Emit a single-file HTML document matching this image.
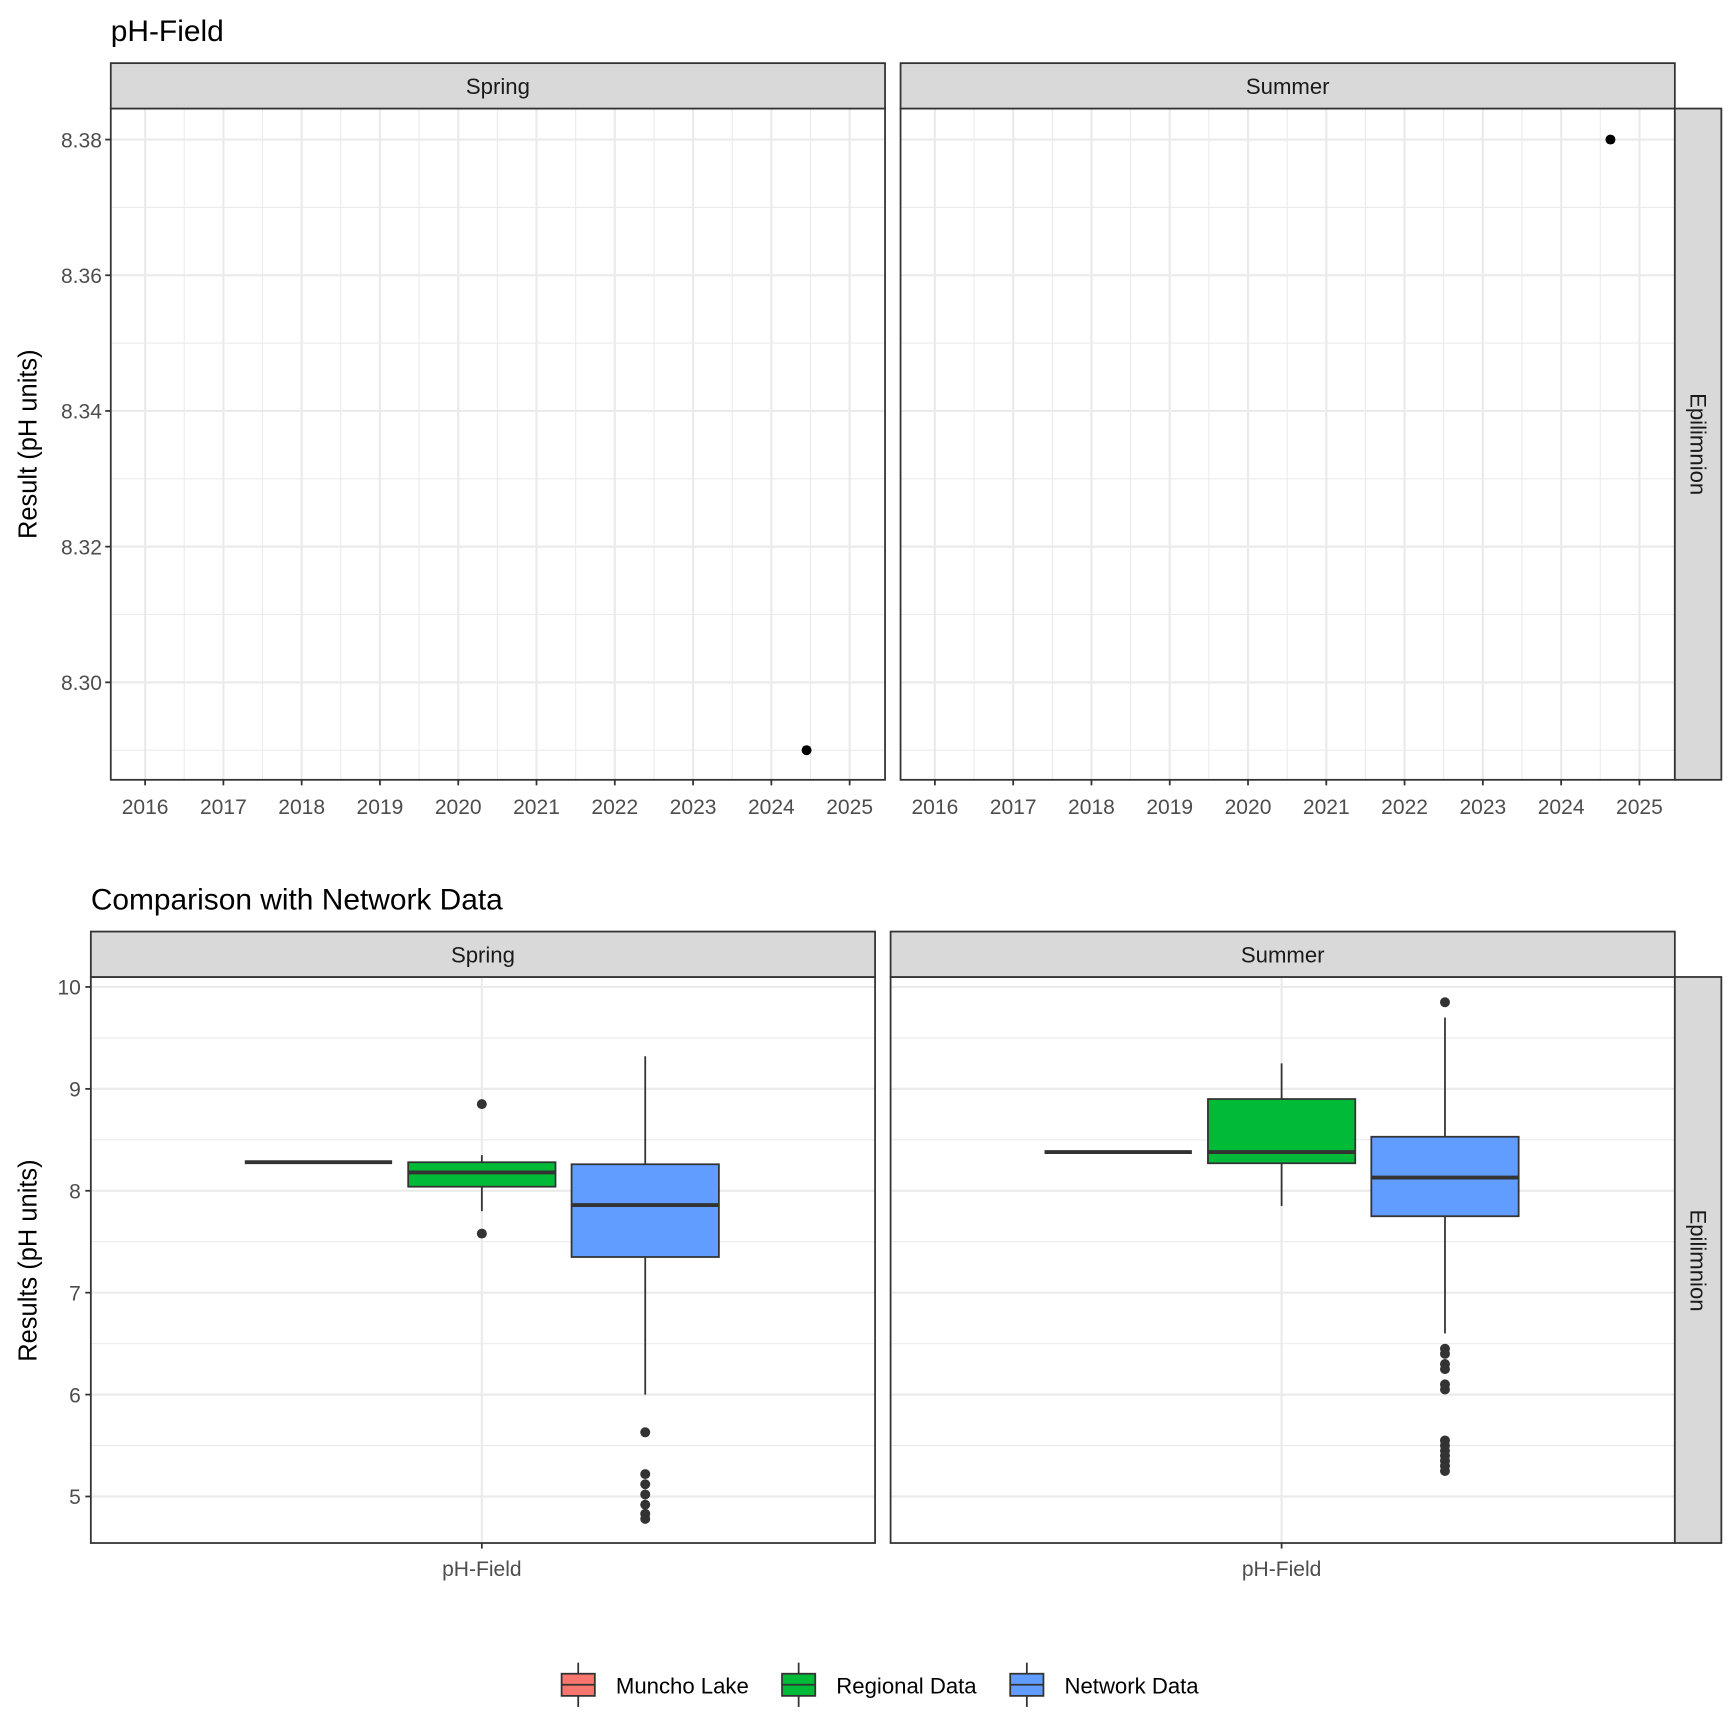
<!DOCTYPE html>
<html><head><meta charset="utf-8"><style>
html,body{margin:0;padding:0;background:#fff;}
svg{display:block;font-family:"Liberation Sans",Arial,sans-serif;}
</style></head><body>
<svg id="chart" width="1728" height="1728" viewBox="0 0 1560 1560" xmlns="http://www.w3.org/2000/svg"></svg>
<script>
// ---- data ----
const years = [2016,2017,2018,2019,2020,2021,2022,2023,2024,2025];
const topTicks = [8.30,8.32,8.34,8.36,8.38];
const topSeasons = ["Spring","Summer"];
const topPointX = [2024.45, 2024.63];
const topPointY = [8.29, 8.38];
const botTicks = [5,6,7,8,9,10];
const groups = ["Muncho Lake","Regional Data","Network Data"];
const groupColors = ["#F8766D","#00BA38","#619CFF"];
// [lowerWhisker, q1, median, q3, upperWhisker]
const springStats = [[8.28,8.28,8.28,8.28,8.28],[7.80,8.04,8.18,8.28,8.35],[6.00,7.35,7.86,8.26,9.32]];
const summerStats = [[8.38,8.38,8.38,8.38,8.38],[7.85,8.27,8.38,8.90,9.25],[6.60,7.75,8.13,8.53,9.70]];
const springOutliers = [[],[8.85,7.58],[5.63,5.22,5.12,5.02,4.92,4.83,4.78]];
const summerOutliers = [[],[],[9.85,6.45,6.40,6.30,6.25,6.10,6.05,5.55,5.50,5.45,5.40,5.35,5.30,5.25]];

const svg = document.getElementById('chart');
const NS = "http://www.w3.org/2000/svg";
function mk(tag, attrs, parent, name, text){
  const e = document.createElementNS(NS, tag);
  for (const k in attrs) e.setAttribute(k, attrs[k]);
  
  
  if (text !== undefined) e.textContent = text;
  (parent||svg).appendChild(e);
  return e;
}
function txt(x,y,s,size,anchor,fill,name,extra){
  const a = Object.assign({x:x,y:y,'font-size':size,'text-anchor':anchor,fill:fill}, extra||{});
  return mk('text', a, svg, name, s);
}

// ---- top chart ----
txt(100,37,"pH-Field",27,"start","#000","top-title");
const topY0 = 98, topY1 = 704;
const ty = v => 126 + (8.38 - v) / 0.02 * 122.5;
const topPanels = [{x0:100,x1:799,ox:131},{x0:813,x1:1512,ox:844}];
topPanels.forEach((p,i)=>{
  const tx = yr => p.ox + (yr - 2016) * 70.67;
  const g = mk('g',{},svg,'top-panel-'+topSeasons[i].toLowerCase());
  mk('rect',{x:p.x0,y:topY0,width:p.x1-p.x0,height:topY1-topY0,fill:'#fff'},g,'panel-background');
  // minor grid
  for (let k=0;k<years.length;k++){ const m = years[k]+0.5; const X=tx(m); if (X>p.x0 && X<p.x1) mk('line',{x1:X,x2:X,y1:topY0,y2:topY1,stroke:'#EBEBEB','stroke-width':1},g,'minor-gridline-x'); }
  { const X = tx(2015.5); if (X>p.x0) mk('line',{x1:X,x2:X,y1:topY0,y2:topY1,stroke:'#EBEBEB','stroke-width':1},g,'minor-gridline-x'); }
  for (let k=0;k<topTicks.length;k++){ const Y=ty(topTicks[k]-0.01); if (Y>topY0&&Y<topY1) mk('line',{x1:p.x0,x2:p.x1,y1:Y,y2:Y,stroke:'#EBEBEB','stroke-width':1},g,'minor-gridline-y'); }
  years.forEach(yr=>{ const X=tx(yr); mk('line',{x1:X,x2:X,y1:topY0,y2:topY1,stroke:'#EBEBEB','stroke-width':2},g,'gridline-x'); });
  topTicks.forEach(v=>{ const Y=ty(v); mk('line',{x1:p.x0,x2:p.x1,y1:Y,y2:Y,stroke:'#EBEBEB','stroke-width':2},g,'gridline-y'); });
  mk('circle',{cx:tx(topPointX[i]),cy:ty(topPointY[i]),r:4.5,fill:'#000'},g,'data-point');
  mk('rect',{x:p.x0,y:topY0,width:p.x1-p.x0,height:topY1-topY0,fill:'none',stroke:'#333','stroke-width':1.6},g,'panel-border');
  mk('rect',{x:p.x0,y:57,width:p.x1-p.x0,height:41,fill:'#D9D9D9',stroke:'#333','stroke-width':1.6},g,'strip');
  mk('text',{x:(p.x0+p.x1)/2,y:85,'font-size':20,'text-anchor':'middle',fill:'#1A1A1A'},g,'strip-label',topSeasons[i]);
  years.forEach(yr=>{ const X=tx(yr);
    mk('line',{x1:X,x2:X,y1:topY1,y2:topY1+5,stroke:'#333','stroke-width':1.6},g,'x-tick');
    mk('text',{x:X,y:735,'font-size':19,'text-anchor':'middle',fill:'#4D4D4D'},g,'x-tick-label',String(yr));
  });
  if (i===0) topTicks.forEach(v=>{ const Y=ty(v);
    mk('line',{x1:p.x0-5,x2:p.x0,y1:Y,y2:Y,stroke:'#333','stroke-width':1.6},g,'y-tick');
    mk('text',{x:p.x0-8,y:Y+7,'font-size':19,'text-anchor':'end',fill:'#4D4D4D'},g,'y-tick-label',v.toFixed(2));
  });
});
mk('rect',{x:1512,y:topY0,width:42,height:topY1-topY0,fill:'#D9D9D9',stroke:'#333','stroke-width':1.6},svg,'top-row-strip');
txt(1526,401,"Epilimnion",20,"middle","#1A1A1A","top-row-strip-label",{transform:'rotate(90 1526 401)'});
txt(33,401,"Result (pH units)",23,"middle","#000","top-y-axis-title",{transform:'rotate(-90 33 401)'});

// ---- bottom chart ----
txt(82,821,"Comparison with Network Data",27,"start","#000","bottom-title");
const bY0 = 882, bY1 = 1393;
const by = v => 891 + (10 - v) * 92;
const botPanels = [{x0:82,x1:790,cx:435,name:'spring',stats:springStats,outs:springOutliers},
                   {x0:804,x1:1512,cx:1157,name:'summer',stats:summerStats,outs:summerOutliers}];
const dodge = 147.5, bw = 133;
botPanels.forEach((p,i)=>{
  const g = mk('g',{},svg,'bottom-panel-'+p.name);
  mk('rect',{x:p.x0,y:bY0,width:p.x1-p.x0,height:bY1-bY0,fill:'#fff'},g,'panel-background');
  botTicks.forEach(v=>{ const Y=by(v+0.5); if (Y>bY0&&Y<bY1) mk('line',{x1:p.x0,x2:p.x1,y1:Y,y2:Y,stroke:'#EBEBEB','stroke-width':1},g,'minor-gridline-y'); });
  { const Y=by(4.5); if (Y<bY1) mk('line',{x1:p.x0,x2:p.x1,y1:Y,y2:Y,stroke:'#EBEBEB','stroke-width':1},g,'minor-gridline-y'); }
  botTicks.forEach(v=>{ const Y=by(v); mk('line',{x1:p.x0,x2:p.x1,y1:Y,y2:Y,stroke:'#EBEBEB','stroke-width':2},g,'gridline-y'); });
  mk('line',{x1:p.cx,x2:p.cx,y1:bY0,y2:bY1,stroke:'#EBEBEB','stroke-width':2},g,'gridline-x');
  p.stats.forEach((s,j)=>{
    const X = p.cx + (j-1)*dodge;
    const bg = mk('g',{},g,'box-'+groups[j].toLowerCase().replace(/ /g,'-'));
    mk('line',{x1:X,x2:X,y1:by(s[4]),y2:by(s[3]),stroke:'#333','stroke-width':1.6},bg,'upper-whisker');
    mk('line',{x1:X,x2:X,y1:by(s[1]),y2:by(s[0]),stroke:'#333','stroke-width':1.6},bg,'lower-whisker');
    mk('rect',{x:X-bw/2,y:by(s[3]),width:bw,height:Math.max(0,by(s[1])-by(s[3])),fill:groupColors[j],stroke:'#333','stroke-width':1.6},bg,'box');
    mk('line',{x1:X-bw/2,x2:X+bw/2,y1:by(s[2]),y2:by(s[2]),stroke:'#333','stroke-width':3.5},bg,'median-line');
    p.outs[j].forEach(o=>{ mk('circle',{cx:X,cy:by(o),r:4.5,fill:'#333'},bg,'outlier'); });
  });
  mk('rect',{x:p.x0,y:bY0,width:p.x1-p.x0,height:bY1-bY0,fill:'none',stroke:'#333','stroke-width':1.6},g,'panel-border');
  mk('rect',{x:p.x0,y:841,width:p.x1-p.x0,height:41,fill:'#D9D9D9',stroke:'#333','stroke-width':1.6},g,'strip');
  mk('text',{x:(p.x0+p.x1)/2,y:869,'font-size':20,'text-anchor':'middle',fill:'#1A1A1A'},g,'strip-label',i===0?'Spring':'Summer');
  mk('line',{x1:p.cx,x2:p.cx,y1:bY1,y2:bY1+5,stroke:'#333','stroke-width':1.6},g,'x-tick');
  mk('text',{x:p.cx,y:1423,'font-size':19,'text-anchor':'middle',fill:'#4D4D4D'},g,'x-tick-label','pH-Field');
  if (i===0) botTicks.forEach(v=>{ const Y=by(v);
    mk('line',{x1:p.x0-5,x2:p.x0,y1:Y,y2:Y,stroke:'#333','stroke-width':1.6},g,'y-tick');
    mk('text',{x:p.x0-9,y:Y+7,'font-size':19,'text-anchor':'end',fill:'#4D4D4D'},g,'y-tick-label',String(v));
  });
});
mk('rect',{x:1512,y:bY0,width:42,height:bY1-bY0,fill:'#D9D9D9',stroke:'#333','stroke-width':1.6},svg,'bottom-row-strip');
txt(1526,1138,"Epilimnion",20,"middle","#1A1A1A","bottom-row-strip-label",{transform:'rotate(90 1526 1138)'});
txt(33,1138,"Results (pH units)",23,"middle","#000","bottom-y-axis-title",{transform:'rotate(-90 33 1138)'});

// ---- legend ----
const legX = [522, 721, 927];
const leg = mk('g',{},svg,'legend');
groups.forEach((gname,j)=>{
  const X = legX[j];
  const e = mk('g',{},leg,'legend-entry');
  mk('line',{x1:X,x2:X,y1:1501,y2:1541,stroke:'#333','stroke-width':1.6},e,'legend-key-whisker');
  mk('rect',{x:X-15,y:1511,width:30,height:20,fill:groupColors[j],stroke:'#333','stroke-width':1.6},e,'legend-key');
  mk('line',{x1:X-15,x2:X+15,y1:1521,y2:1521,stroke:'#333','stroke-width':1.6},e,'legend-key-median');
  mk('text',{x:X+34,y:1529,'font-size':20,'text-anchor':'start',fill:'#000'},e,'legend-label',gname);
});
</script>
</body></html>
